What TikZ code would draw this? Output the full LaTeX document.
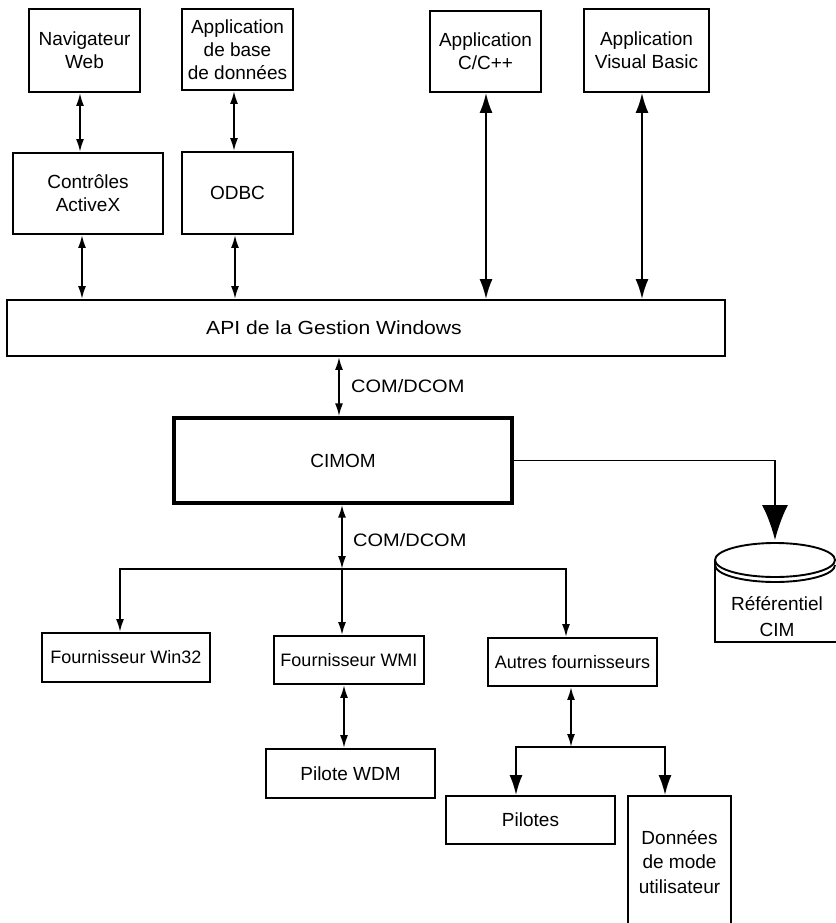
\documentclass[tikz,border=0pt]{standalone}
\usepackage{fontspec}
\setmainfont{Liberation Sans}
\newfontfamily\widefont[FakeStretch=1.11]{Liberation Sans}
\usetikzlibrary{arrows.meta,calc}
\begin{document}
\begin{tikzpicture}[x=1pt,y=-1pt,
  box/.style={draw, line width=1.9pt, inner sep=0pt, align=center, font=\fontsize{19}{23}\selectfont},
  pbox/.style={box, font=\fontsize{18}{23}\selectfont},
  lbl/.style={font=\widefont\fontsize{18}{23}\selectfont, inner sep=0pt},
  ln/.style={line width=1.9pt},
  sa/.style={ln, -{Latex[length=13pt,width=8pt]}},
  dsa/.style={ln, {Latex[length=13pt,width=8pt]}-{Latex[length=13pt,width=8pt]}},
  ma/.style={ln, -{Latex[length=20pt,width=13pt]}},
  dma/.style={ln, {Latex[length=20pt,width=13pt]}-{Latex[length=20pt,width=13pt]}},
  ba/.style={ln, -{Latex[length=35pt,width=26pt]}}
]
\fill[white] (0,0) rectangle (835,923);
\useasboundingbox (0,0) rectangle (835,923);

% top row
\node[box, minimum width=111pt, minimum height=83pt] (nav) at (84.5,50.5) {Navigateur\\Web};
\node[box, minimum width=111pt, minimum height=81pt] (appdb) at (237.5,49.5) {Application\\de base\\de données};
\node[box, minimum width=111pt, minimum height=81pt] (cpp) at (485.5,51.5) {Application\\C/C++};
\node[box, minimum width=125pt, minimum height=83pt] (vb) at (646.5,50.5) {Application\\Visual Basic};
\node[box, minimum width=150pt, minimum height=81pt] (ctrl) at (88,193.5) {Contrôles\\ActiveX};
\node[box, minimum width=111pt, minimum height=82pt] (odbc) at (237.5,193) {ODBC};

\node[box, minimum width=718pt, minimum height=56pt, font=\widefont\fontsize{19}{23}\selectfont] (api) at (366,328) {\hspace*{-64pt}API de la Gestion Windows};
\node[box, line width=3.4pt, minimum width=338pt, minimum height=85pt] (cimom) at (343,460.5) {CIMOM};

% providers
\node[pbox, minimum width=168pt, minimum height=49pt] (win32) at (126,657.5) {Fournisseur Win32};
\node[pbox, minimum width=150pt, minimum height=48pt] (wmi) at (349,660) {Fournisseur WMI};
\node[pbox, minimum width=169pt, minimum height=48pt] (autres) at (572.5,662) {Autres fournisseurs};
\node[box, minimum width=169pt, minimum height=49pt] (wdm) at (350.5,773.5) {Pilote WDM};
\node[box, minimum width=169pt, minimum height=48pt] (pilotes) at (530.5,820) {Pilotes};
\node[box, minimum width=103pt, minimum height=132pt, font=\fontsize{19}{24.5}\selectfont] (donnees) at (679.5,862) {Données\\de mode\\utilisateur};

% cylinder
\draw[ln] (775,560) ellipse [x radius=60pt, y radius=17pt];
\draw[ln] (715,565) arc[start angle=180, end angle=360, x radius=60pt, y radius=17pt];
\draw[ln] (715,560) -- (715,642) -- (840,642) -- (840,560);
\node[inner sep=0pt, font=\fontsize{19}{26}\selectfont, align=center] (refcim) at (777,617) {Référentiel\\CIM};

% connectors top
\coordinate (a1) at ([xshift=-4.5pt]nav.south);
\draw[dsa] (a1) -- (a1 |- ctrl.north);
\coordinate (a2) at ([xshift=-6pt]ctrl.south);
\draw[dsa] (a2) -- (a2 |- api.north);
\coordinate (a3) at ([xshift=-3.5pt]appdb.south);
\draw[dsa] (a3) -- (a3 |- odbc.north);
\coordinate (a4) at ([xshift=-2.5pt]odbc.south);
\draw[dsa] (a4) -- (a4 |- api.north);
\coordinate (a5) at ([xshift=0.5pt]cpp.south);
\draw[dma] (a5) -- (a5 |- api.north);
\coordinate (a6) at ([xshift=-4.5pt]vb.south);
\draw[dma] (a6) -- (a6 |- api.north);

% API - CIMOM
\coordinate (a7) at ([xshift=-4pt]cimom.north);
\draw[dsa] (a7 |- api.south) -- (a7);
\node[lbl, anchor=west] (com1) at (351,386) {COM/DCOM};

% CIMOM - providers
\coordinate (j) at (342,569);
\coordinate (jl) at (120,569);
\coordinate (jr) at (566,569);
\draw[dsa] (cimom.south -| j) -- (j);
\node[lbl, anchor=west] (com2) at (353,540) {COM/DCOM};
\draw[sa] (j) -- (jl) -- (jl |- win32.north);
\draw[sa] (j) -- (jr) -- (jr |- autres.north);
\draw[sa] (j) -- (j |- wmi.north);

\coordinate (a8) at ([xshift=-5pt]wmi.south);
\draw[dsa] (a8) -- (a8 |- wdm.north);

\coordinate (k) at (571,747);
\coordinate (kl) at (516,747);
\coordinate (kr) at (665,747);
\draw[dsa] (autres.south -| k) -- (k);
\draw[ma] (k) -- (kl) -- (kl |- pilotes.north);
\draw[ma] (k) -- (kr) -- (kr |- donnees.north);

% CIMOM - repository
\coordinate (cy) at (775,540);
\draw[ba] (cimom.east) -- (cimom.east -| cy) -- (cy);
\end{tikzpicture}
\end{document}
